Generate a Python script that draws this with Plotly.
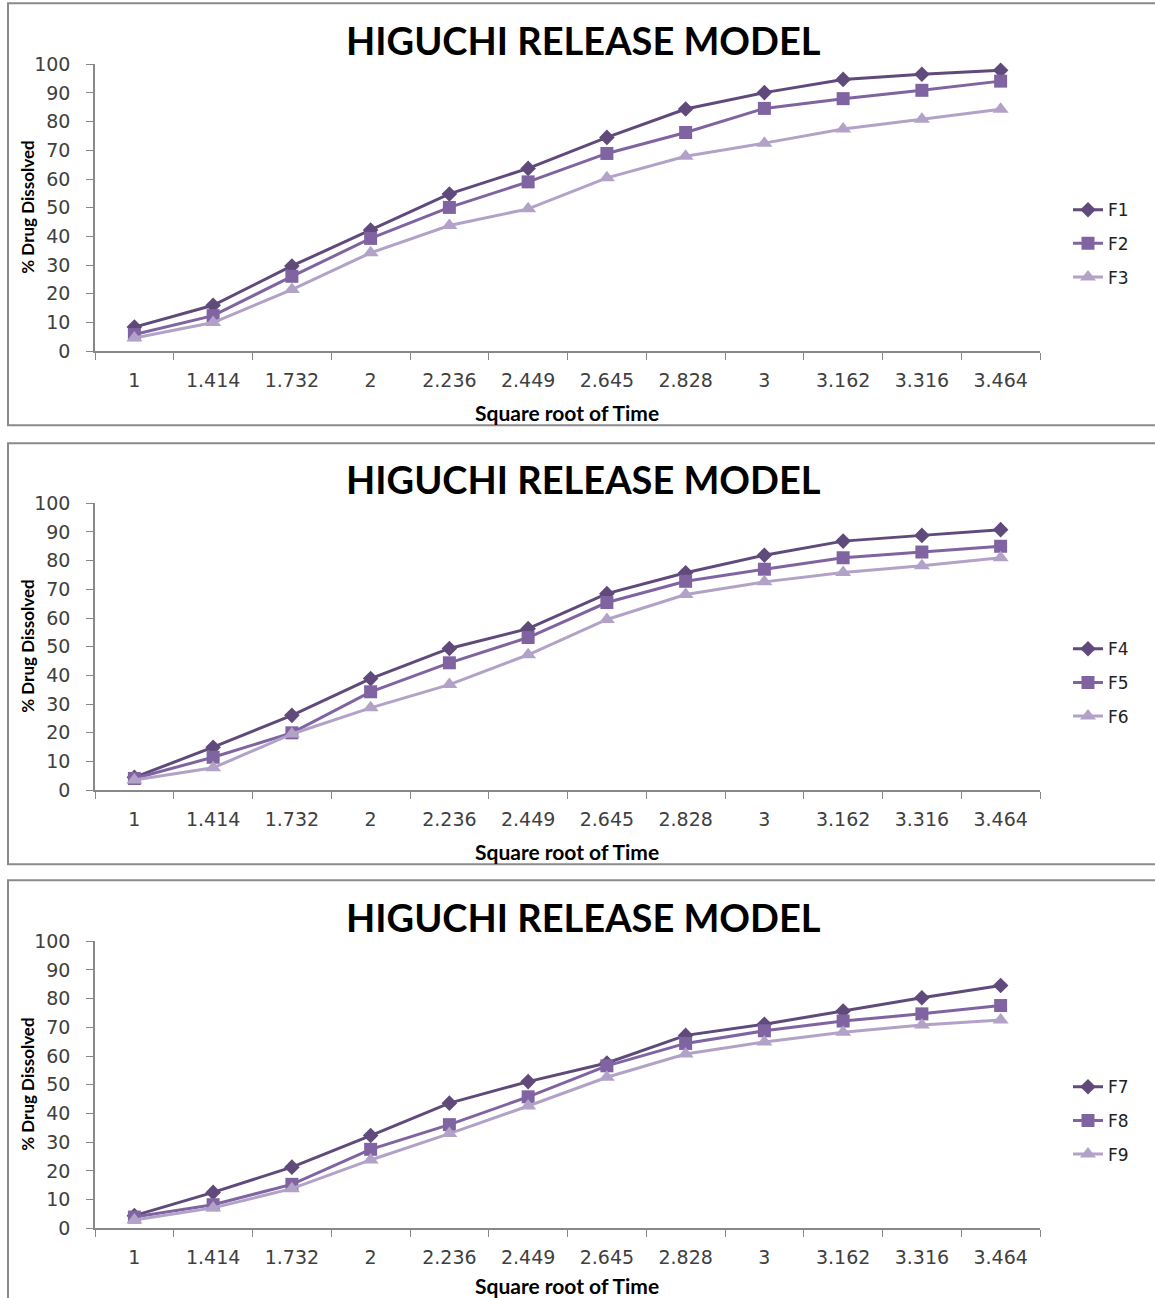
import plotly.graph_objects as go

# Square root of time (category labels on the x axis)
sqrt_time = ["1", "1.414", "1.732", "2", "2.236", "2.449",
             "2.645", "2.828", "3", "3.162", "3.316", "3.464"]

# % drug dissolved for each formulation
F1 = [8.4, 16.0, 29.7, 42.2, 54.8, 63.7, 74.5, 84.4, 90.1, 94.7, 96.5, 97.9]
F2 = [5.8, 12.4, 26.1, 39.3, 50.1, 59.0, 68.9, 76.2, 84.6, 88.0, 90.9, 94.1]
F3 = [4.6, 10.0, 21.5, 34.3, 43.8, 49.6, 60.4, 67.9, 72.5, 77.4, 80.8, 84.3]

F4 = [4.5, 15.0, 26.1, 38.9, 49.4, 56.3, 68.5, 75.8, 81.9, 86.8, 88.8, 90.8]
F5 = [4.1, 11.5, 20.0, 34.3, 44.4, 53.2, 65.4, 72.8, 77.0, 81.0, 83.0, 85.0]
F6 = [3.6, 7.8, 19.6, 28.7, 36.8, 47.2, 59.5, 68.2, 72.6, 75.9, 78.2, 81.0]

F7 = [4.4, 12.5, 21.3, 32.3, 43.6, 51.1, 57.6, 67.2, 71.1, 75.7, 80.3, 84.6]
F8 = [3.9, 8.2, 15.3, 27.5, 36.1, 45.8, 56.6, 64.4, 68.8, 72.2, 74.7, 77.6]
F9 = [2.9, 7.1, 13.8, 23.8, 33.0, 42.6, 52.6, 60.7, 64.9, 68.3, 70.8, 72.6]

panel_series = [
    [("F1", F1), ("F2", F2), ("F3", F3)],
    [("F4", F4), ("F5", F5), ("F6", F6)],
    [("F7", F7), ("F8", F8), ("F9", F9)],
]

TITLE = "HIGUCHI RELEASE MODEL"
X_TITLE = "Square root of Time"
Y_TITLE = "% Drug Dissolved"

W, H = 1155, 1298
COLORS = ["#604A7B", "#8064A2", "#B3A2C7"]
SYMBOLS = ["diamond", "square", "triangle-up"]
MSIZES = [12, 13, 14]
AXIS_GREY = "#888888"
TICK_FONT = dict(family="DejaVu Sans", size=19, color="#404040")
HEAD_FONT = "Lato"

# vertical placement: page rows are mapped with a small top inset and scale
ROW_INSET = 10.8
ROW_SCALE = 0.983


def py(px):
    """Page row (from top) -> paper y."""
    return 1 - ((px - ROW_INSET) / ROW_SCALE) / H


def px_x(px):
    return px / W


# page geometry of each panel: plot top/bottom, frame top/bottom,
# title row, x-title row, legend top row
panels = [
    dict(top=64, bot=351, box_top=3, box_bot=425, title=40, xt=412, leg=192),
    dict(top=503, bot=790, box_top=443, box_bot=864, title=479, xt=851, leg=631),
    dict(top=941, bot=1228, box_top=880, box_bot=1320, title=917, xt=1285, leg=1069),
]

fig = go.Figure()
shapes = []
annotations = []
layout_axes = {}

for i, (p, series) in enumerate(zip(panels, panel_series)):
    n = i + 1
    xa = "x" if n == 1 else f"x{n}"
    ya = "y" if n == 1 else f"y{n}"
    leg = "legend" if n == 1 else f"legend{n}"

    for j, (name, vals) in enumerate(series):
        fig.add_trace(go.Scatter(
            x=sqrt_time, y=vals, name=name, mode="lines+markers",
            xaxis=xa, yaxis=ya, legend=leg, legendgroup=name,
            line=dict(color=COLORS[j], width=3),
            marker=dict(symbol=SYMBOLS[j], size=MSIZES[j], color=COLORS[j]),
            cliponaxis=False,
        ))

    xkey = "xaxis" if n == 1 else f"xaxis{n}"
    ykey = "yaxis" if n == 1 else f"yaxis{n}"
    layout_axes[xkey] = dict(
        type="category", domain=[px_x(95), px_x(1040)], anchor=ya,
        range=[-0.5, 11.5], tickson="boundaries", ticks="outside", ticklen=7,
        tickcolor=AXIS_GREY, showline=True, linecolor=AXIS_GREY, linewidth=1.5,
        showgrid=False, zeroline=False, tickfont=TICK_FONT,
        ticklabelstandoff=11, fixedrange=True,
    )
    layout_axes[ykey] = dict(
        domain=[py(p["bot"]), py(p["top"])], anchor=xa, range=[0, 100],
        dtick=10, ticks="outside", ticklen=7, tickcolor=AXIS_GREY,
        showline=True, linecolor=AXIS_GREY, linewidth=1.5, showgrid=False,
        zeroline=False, tickfont=TICK_FONT, ticklabelstandoff=12,
        fixedrange=True,
    )
    layout_axes[leg] = dict(
        x=px_x(1068), y=py(p["leg"]), xanchor="left", yanchor="top",
        font=dict(family="DejaVu Sans", size=17, color="#222222"),
        bgcolor="rgba(0,0,0,0)", tracegroupgap=8.5, itemwidth=30,
    )

    # panel frame
    shapes.append(dict(
        type="rect", xref="paper", yref="paper",
        x0=px_x(8), x1=px_x(1170), y0=py(p["box_bot"]), y1=py(p["box_top"]),
        line=dict(color="#8A8A8A", width=2), fillcolor="rgba(0,0,0,0)",
        layer="below",
    ))

    annotations.append(dict(
        text=TITLE, xref="paper", yref="paper", x=px_x(583), y=py(p["title"]),
        xanchor="center", yanchor="middle", showarrow=False,
        font=dict(family=HEAD_FONT, size=38, color="#000000", weight="bold"),
    ))
    annotations.append(dict(
        text=X_TITLE, xref="paper", yref="paper", x=px_x(567), y=py(p["xt"]),
        xanchor="center", yanchor="middle", showarrow=False,
        font=dict(family=HEAD_FONT, size=21, color="#000000", weight="bold"),
    ))
    annotations.append(dict(
        text=Y_TITLE, xref="paper", yref="paper", x=px_x(28),
        y=py((p["top"] + p["bot"]) / 2), xanchor="center",
        yanchor="middle", showarrow=False, textangle=-90,
        font=dict(family=HEAD_FONT, size=17, color="#000000", weight="bold"),
    ))

fig.update_layout(
    width=W, height=H, margin=dict(l=0, r=0, t=0, b=0),
    paper_bgcolor="white", plot_bgcolor="white",
    showlegend=True, shapes=shapes, annotations=annotations,
    **layout_axes,
)

fig.write_html("out.html", config={"displayModeBar": False})
